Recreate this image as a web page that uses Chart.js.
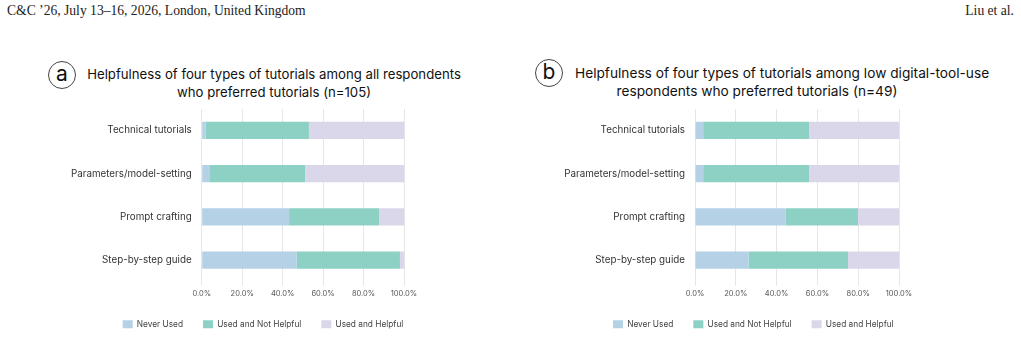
<!DOCTYPE html>
<html>
<head>
<meta charset="utf-8">
<script src="https://cdn.jsdelivr.net/npm/chart.js@4.4.1/dist/chart.umd.min.js"></script>
<style>
  body { margin: 0; width: 1021px; height: 337px; overflow: hidden; background: #fff; position: relative; font-family: Inter, sans-serif; }
  .hdr { position: absolute; top: 3px; font-family: "Liberation Serif", serif; font-size: 13.6px; color: #222; }
  .badge { position: absolute; width: 28px; height: 28px; border: 1px solid #444; border-radius: 50%; box-sizing: border-box;
           font-size: 21px; line-height: 24px; text-align: center; color: #111; }
  .ttl { position: absolute; line-height: 18px; color: #111; text-align: center; white-space: nowrap; }
  canvas { position: absolute; }
</style>
</head>
<body>
<div class="hdr" style="left:7px">C&amp;C ’26, July 13–16, 2026, London, United Kingdom</div>
<div class="hdr" style="right:7px">Liu et al.</div>

<div class="badge" style="left:48px; top:61px">a</div>
<div class="ttl" style="left:74px; width:400px; top:65px; font-size:13.2px">Helpfulness of four types of tutorials among all respondents<br>who preferred tutorials (n=105)</div>

<div class="badge" style="left:535px; top:59px">b</div>
<div class="ttl" style="left:575px; width:401px; top:64px; font-size:13.7px">Helpfulness of four types of tutorials among low digital-tool-use</div>
<div class="ttl" style="left:557px; width:400px; top:82px; font-size:13.7px">respondents who preferred tutorials (n=49)</div>

<canvas id="chartA" width="510" height="248" style="left:0; top:93px"></canvas>
<canvas id="chartB" width="510" height="248" style="left:500px; top:93px"></canvas>

<script>
// категории и подписи
var categories = ['Technical tutorials', 'Parameters/model-setting', 'Prompt crafting', 'Step-by-step guide'];
var seriesNames = ['Never Used', 'Used and Not Helpful', 'Used and Helpful'];
var seriesColors = ['#b4d1e6', '#8dd1c4', '#dbd7ea'];
var xTicks = [0, 20, 40, 60, 80, 100];

// (a) все респонденты, n=105, проценты
var allNever = [2.0, 4.1, 43.2, 47.0];
var allNotHelpful = [51.0, 47.0, 44.5, 51.0];
var allHelpful = [47.0, 48.9, 12.3, 2.0];

// (b) низкое использование цифровых инструментов, n=49
var lowNever = [4.0, 4.0, 44.5, 26.3];
var lowNotHelpful = [51.9, 51.9, 35.4, 48.7];
var lowHelpful = [44.1, 44.1, 20.1, 25.0];

// сдвиг легенды в нужное место
var legendShift = {
  id: 'legendShift',
  afterLayout: function(chart, args, opts) {
    var lg = chart.legend;
    var dx = opts.left - lg.left;
    lg.left += dx; lg.right += dx;
    var dy = opts.top - lg.top;
    lg.top += dy; lg.bottom += dy;
  }
};

function makeChart(id, series, yWidth, padRight, legendLeft) {
  var ctx = document.getElementById(id).getContext('2d');
  return new Chart(ctx, {
    type: 'bar',
    plugins: [legendShift],
    data: {
      labels: categories,
      datasets: series.map(function(values, i) {
        return {
          label: seriesNames[i],
          data: values,
          backgroundColor: seriesColors[i],
          borderWidth: 0,
          categoryPercentage: 0.5,
          barPercentage: 0.8
        };
      })
    },
    options: {
      indexAxis: 'y',
      responsive: false,
      devicePixelRatio: 1,
      animation: false,
      layout: { padding: { left: 0, right: padRight, top: 1, bottom: 0 } },
      scales: {
        x: {
          stacked: true,
          min: 0,
          max: 100,
          afterBuildTicks: function(scale) {
            scale.ticks = xTicks.map(function(v) { return { value: v }; });
          },
          grid: { color: '#e6e6e6', tickLength: 4 },
          border: { display: false },
          ticks: {
            padding: 4,
            color: '#555',
            font: { family: 'Inter', size: 7.5 },
            maxRotation: 0,
            callback: function(v) { return v.toFixed(1) + '%'; }
          }
        },
        y: {
          stacked: true,
          afterFit: function(scale) { scale.width = yWidth; },
          grid: { display: false, drawTicks: false },
          border: { display: false },
          ticks: { padding: 10, color: '#333', font: { family: 'Inter', size: 9.8 } }
        }
      },
      plugins: {
        legend: {
          position: 'bottom',
          align: 'start',
          labels: {
            boxWidth: 10,
            boxHeight: 8,
            padding: 20,
            color: '#444',
            font: { family: 'Inter', size: 8.3 }
          }
        },
        legendShift: { left: legendLeft, top: 207 },
        tooltip: { enabled: false }
      }
    }
  });
}

makeChart('chartA', [allNever, allNotHelpful, allHelpful], 201.7, 106, 102.7);
makeChart('chartB', [lowNever, lowNotHelpful, lowHelpful], 195, 111, 93);
</script>
</body>
</html>
